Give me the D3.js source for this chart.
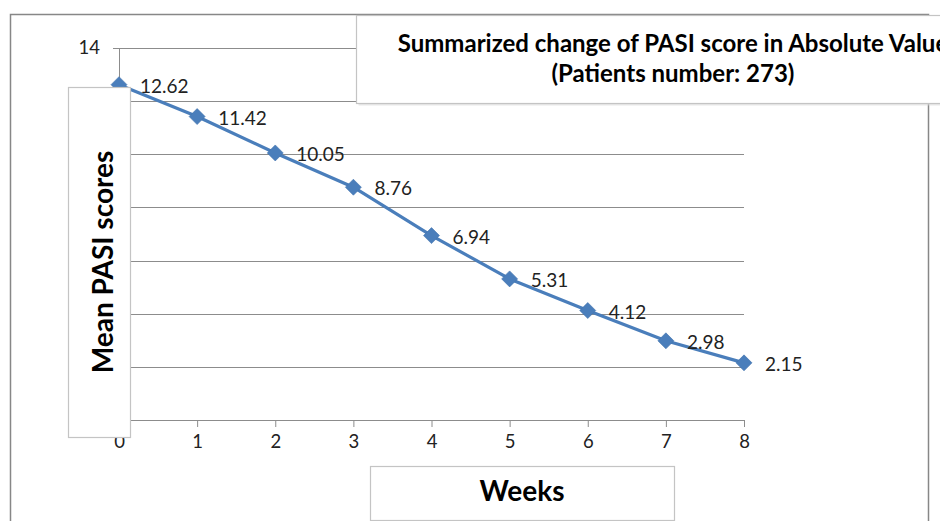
<!DOCTYPE html>
<html><head><meta charset="utf-8">
<script src="https://cdn.jsdelivr.net/npm/d3@7"></script>
<style>body{margin:0;background:#fff}svg{display:block}</style>
</head><body>
<svg id="c" width="940" height="521"></svg>
<script>
const weeks = [0,1,2,3,4,5,6,7,8];
const meanPasi = [12.62,11.42,10.05,8.76,6.94,5.31,4.12,2.98,2.15];
const yTicks = [0,2,4,6,8,10,12,14];
const titleLines = ["Summarized change of PASI score in Absolute Value","(Patients number: 273)"];
const yTitle = "Mean PASI scores";
const xTitle = "Weeks";

const svg = d3.select("#c");
const font = "Lato, 'Open Sans', sans-serif";
const x = d3.scaleLinear().domain([0,8]).range([119,744]);
const y = d3.scaleLinear().domain([0,14]).range([420,48]);

// outer chart border
svg.append("rect").attr("x",10.5).attr("y",14.5).attr("width",918).attr("height",530)
  .attr("fill","#fff").attr("stroke","#878787").attr("stroke-width",1.5);

// gridlines
svg.append("g").selectAll("line").data(yTicks.filter(d=>d>0)).join("line")
  .attr("x1",x(0)).attr("x2",x(8)).attr("y1",d=>Math.round(y(d))+0.5).attr("y2",d=>Math.round(y(d))+0.5)
  .attr("stroke","#8c8c8c").attr("stroke-width",1);

// y axis
const ya = svg.append("g").attr("transform",`translate(${x(0)},0)`)
  .call(d3.axisLeft(y).tickValues(yTicks).tickSize(6).tickPadding(13).tickFormat(d3.format("d")));
ya.select(".domain").attr("stroke","#8c8c8c");
ya.selectAll(".tick line").attr("stroke","#8c8c8c");
ya.selectAll(".tick text").attr("font-family",font).attr("font-size",18.5).attr("fill","#222");

// x axis
const xa = svg.append("g").attr("transform",`translate(0,${y(0)})`)
  .call(d3.axisBottom(x).tickValues(weeks).tickSize(7).tickPadding(8).tickFormat(d3.format("d")));
xa.select(".domain").attr("stroke","#8c8c8c");
xa.selectAll(".tick line").attr("stroke","#8c8c8c");
xa.selectAll(".tick text").attr("font-family",font).attr("font-size",18.5).attr("fill","#222");

// line
const line = d3.line().x((d,i)=>x(weeks[i])).y(d=>y(d));
svg.append("path").datum(meanPasi).attr("d",line).attr("fill","none")
  .attr("stroke","#4a7ebb").attr("stroke-width",3.2).attr("stroke-linejoin","round");

// markers (square diamonds)
const r = 8;
svg.append("g").selectAll("path").data(meanPasi).join("path")
  .attr("transform",(d,i)=>`translate(${x(weeks[i])},${y(d)})`)
  .attr("d",`M0,${-r}L${r},0L0,${r}L${-r},0Z`)
  .attr("fill","#4a7ebb").attr("stroke","#4272ad").attr("stroke-width",0.6);

// data labels
svg.append("g").selectAll("text").data(meanPasi).join("text")
  .attr("x",(d,i)=>x(weeks[i])+21).attr("y",d=>y(d)+8)
  .attr("font-family",font).attr("font-size",19).attr("fill","#222")
  .text(d=>d.toFixed(2));

// y title box
svg.append("rect").attr("x",68.5).attr("y",87.5).attr("width",62).attr("height",350)
  .attr("fill","#fff").attr("stroke","#c4c4c4").attr("stroke-width",1.2);
svg.append("text").attr("transform","translate(113,262) rotate(-90)")
  .attr("text-anchor","middle").attr("font-family",font).attr("font-weight","bold")
  .attr("font-size",28).attr("fill","#000").text(yTitle);

// x title box
svg.append("rect").attr("x",370.5).attr("y",466.5).attr("width",304).attr("height",54)
  .attr("fill","#fff").attr("stroke","#c4c4c4").attr("stroke-width",1.2);
svg.append("text").attr("x",522).attr("y",501).attr("text-anchor","middle")
  .attr("font-family",font).attr("font-weight","bold").attr("font-size",28).attr("fill","#000").text(xTitle);

// title box
svg.append("rect").attr("x",358.5).attr("y",17.5).attr("width",620).attr("height",88)
  .attr("fill","#d8d8d8").attr("opacity",0.6);
svg.append("rect").attr("x",356.5).attr("y",15.5).attr("width",620).attr("height",88)
  .attr("fill","#fff").attr("stroke","#c4c4c4").attr("stroke-width",1.2);
svg.append("g").selectAll("text").data(titleLines).join("text")
  .attr("x",673).attr("y",(d,i)=>52+i*30).attr("text-anchor","middle")
  .attr("font-family",font).attr("font-weight","bold").attr("font-size",24).attr("fill","#000")
  .text(d=>d);
</script>
</body></html>
